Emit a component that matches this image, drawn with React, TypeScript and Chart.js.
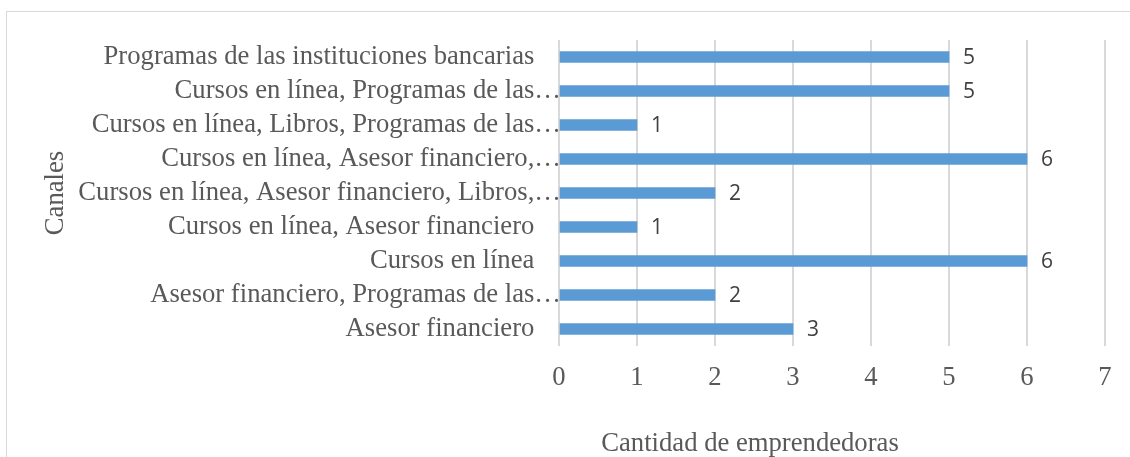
import React, { useEffect, useRef } from 'react';
import { Chart, registerables } from 'chart.js';

Chart.register(...registerables);

const categories = [
  'Programas de las instituciones bancarias',
  'Cursos en línea, Programas de las…',
  'Cursos en línea, Libros, Programas de las…',
  'Cursos en línea, Asesor financiero,…',
  'Cursos en línea, Asesor financiero, Libros,…',
  'Cursos en línea, Asesor financiero',
  'Cursos en línea',
  'Asesor financiero, Programas de las…',
  'Asesor financiero',
];
const values = [5, 5, 1, 6, 2, 1, 6, 2, 3];
const xMin = 0;
const xMax = 7;
const xStep = 1;
const xAxisTitle = 'Cantidad de emprendedoras';
const yAxisTitle = 'Canales';

const SERIF = '"Liberation Serif", "Times New Roman", serif';
const TEXT = '#595959';
const FS = 26.67;

const valueLabels = {
  id: 'valueLabels',
  afterDatasetsDraw(chart: any) {
    const ctx = chart.ctx;
    const meta = chart.getDatasetMeta(0);
    const data = chart.data.datasets[0].data;
    ctx.save();
    ctx.font = '21px "Open Sans", sans-serif';
    ctx.fillStyle = '#404040';
    ctx.textAlign = 'left';
    ctx.textBaseline = 'middle';
    meta.data.forEach((bar: any, i: number) => {
      ctx.fillText(String(data[i]), bar.x + 14, bar.y + 1);
    });
    ctx.restore();
  },
};

const xTitlePlugin = {
  id: 'xTitlePlugin',
  afterDraw(chart: any) {
    const ctx = chart.ctx;
    ctx.save();
    ctx.font = `${FS}px ${SERIF}`;
    ctx.fillStyle = TEXT;
    ctx.textAlign = 'center';
    ctx.textBaseline = 'alphabetic';
    ctx.fillText(xAxisTitle, chart.chartArea.left + 191, chart.height - 6);
    ctx.restore();
  },
};

export default function App() {
  const ref = useRef<HTMLCanvasElement | null>(null);

  useEffect(() => {
    if (!ref.current) return;
    const chart = new Chart(ref.current, {
      type: 'bar',
      data: {
        labels: categories,
        datasets: [
          {
            data: values,
            backgroundColor: '#5B9BD5',
            borderWidth: 0,
            barThickness: 11,
          },
        ],
      },
      options: {
        indexAxis: 'y',
        animation: false,
        responsive: false,
        maintainAspectRatio: false,
        layout: { padding: { top: 40, right: 25, left: 0, bottom: 0 } },
        plugins: {
          legend: { display: false },
          tooltip: { enabled: false },
          title: { display: false },
        },
        scales: {
          x: {
            type: 'linear',
            min: xMin,
            max: xMax,
            ticks: {
              stepSize: xStep,
              padding: 16,
              color: TEXT,
              font: { family: SERIF, size: FS },
            },
            grid: { color: '#d9d9d9', lineWidth: 2, drawTicks: false },
            border: { display: false },
            afterFit: (scale: any) => {
              scale.height = 111;
            },
          },
          y: {
            type: 'category',
            ticks: {
              padding: -2,
              color: TEXT,
              font: { family: SERIF, size: FS },
              autoSkip: false,
              callback: (_v: any, i: number) => {
                const l = categories[i];
                return l.endsWith('…') ? l : l + '    ';
              },
            },
            grid: { display: false, drawTicks: false },
            border: { display: false },
            title: {
              display: true,
              text: yAxisTitle,
              color: TEXT,
              font: { family: SERIF, size: FS },
              padding: { top: 40, bottom: 0 },
            },
            afterFit: (scale: any) => {
              scale.width = 559;
            },
          },
        },
      },
      plugins: [valueLabels, xTitlePlugin],
    } as any);
    return () => chart.destroy();
  }, []);

  return (
    <div
      style={{
        position: 'absolute',
        left: 0,
        top: 0,
        width: 1130,
        height: 457,
        overflow: 'hidden',
        background: '#ffffff',
      }}
    >
      <div
        style={{
          position: 'absolute',
          left: 6,
          top: 11,
          width: 1400,
          height: 800,
          border: '1px solid #d9d9d9',
        }}
      />
      <canvas
        ref={ref}
        width={1130}
        height={457}
        style={{ position: 'absolute', left: 0, top: 0, width: 1130, height: 457 }}
      />
    </div>
  );
}
